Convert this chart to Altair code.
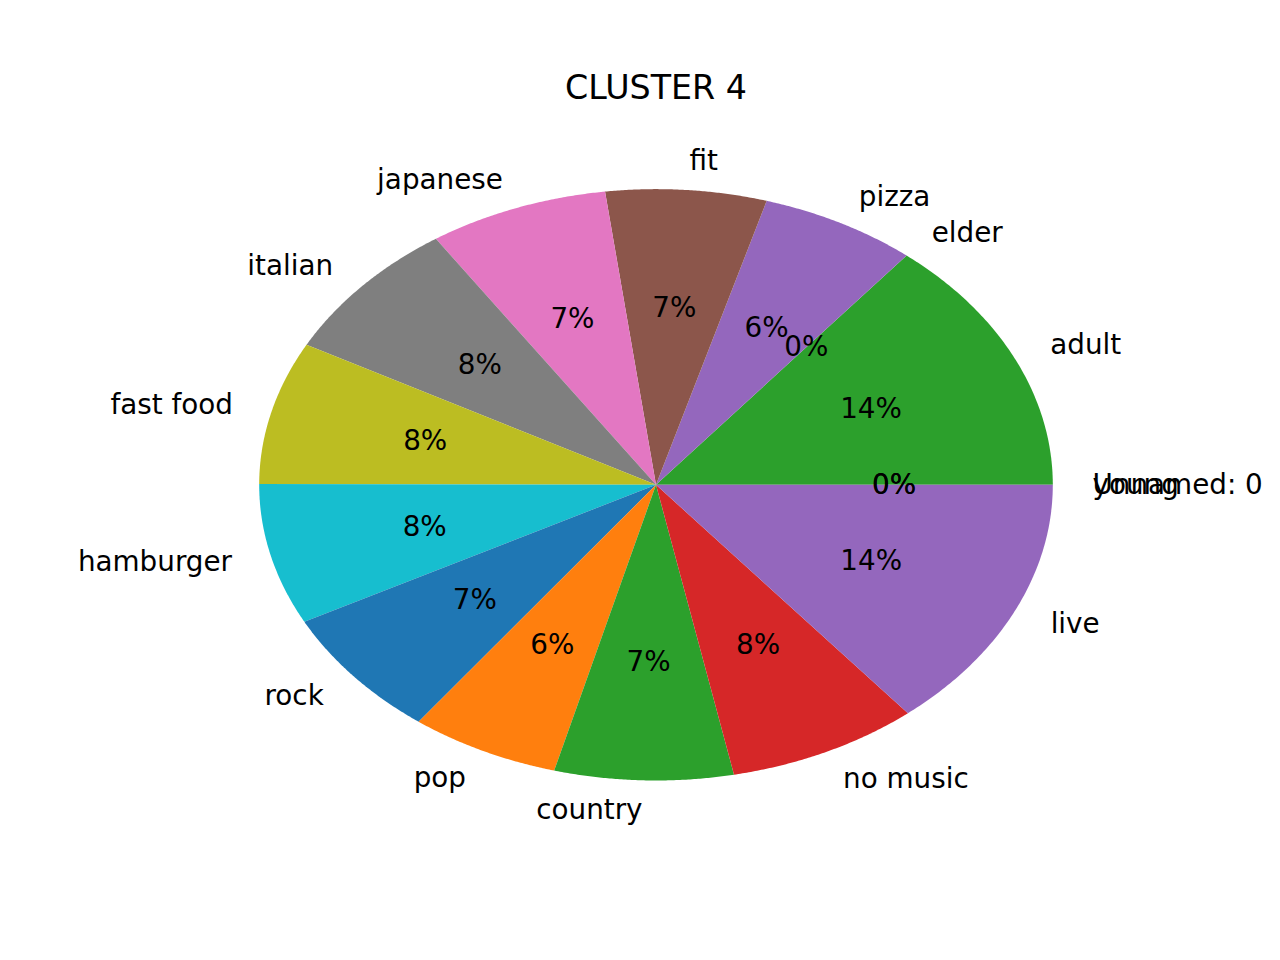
import altair as alt
import pandas as pd

labels = ["Unnamed: 0", "young", "adult", "elder", "pizza", "fit", "japanese",
          "italian", "fast food", "hamburger", "rock", "pop", "country",
          "no music", "live"]
values = [0.0, 0.0, 14.12, 0.0, 6.38, 6.55, 7.31, 7.79, 7.81, 7.71, 7.12,
          6.08, 7.28, 7.80, 14.05]
colors = ["#1f77b4", "#ff7f0e", "#2ca02c", "#d62728", "#9467bd", "#8c564b",
          "#e377c2", "#7f7f7f", "#bcbd22", "#17becf", "#1f77b4", "#ff7f0e",
          "#2ca02c", "#d62728", "#9467bd"]
title_text = ["CLUSTER 4"]

df = pd.DataFrame({"label": labels, "value": values, "idx": list(range(len(labels)))})

FONT = "DejaVu Sans"
N = 90

base = alt.Chart(df).transform_window(
    cum="sum(value)", sort=[alt.SortField("idx")], frame=[None, 0]
).transform_joinaggregate(
    total="sum(value)"
).transform_calculate(
    a0="(datum.cum - datum.value) / datum.total * 2 * PI",
    a1="datum.cum / datum.total * 2 * PI",
).transform_calculate(
    mid="(datum.a0 + datum.a1) / 2",
    pct="format(datum.value / datum.total * 100, '.0f') + '%'",
)

xs = alt.Scale(domain=[-1.25, 1.25], nice=False, zero=False)
ys = alt.Scale(domain=[-1.25, 1.25], nice=False, zero=False)

pie = base.transform_calculate(
    pts=f"sequence(0, {N + 2})"
).transform_flatten(["pts"]).transform_calculate(
    t=f"datum.a0 + (datum.a1 - datum.a0) * (datum.pts - 1) / {N}"
).transform_calculate(
    px="datum.pts == 0 ? 0 : cos(datum.t)",
    py="datum.pts == 0 ? 0 : sin(datum.t)",
).mark_line(strokeWidth=0, interpolate="linear").encode(
    x=alt.X("px:Q", scale=xs, axis=None),
    y=alt.Y("py:Q", scale=ys, axis=None),
    fill=alt.Fill("label:N", scale=alt.Scale(domain=labels, range=colors), legend=None),
    order=alt.Order("pts:Q"),
)

lab = base.transform_calculate(
    px="1.1 * cos(datum.mid)", py="1.1 * sin(datum.mid)"
)
lab_right = lab.transform_filter("cos(datum.mid) > 0").mark_text(
    align="left", baseline="middle", font=FONT, fontSize=27.8, color="black", dy=1
).encode(
    x=alt.X("px:Q", scale=xs, axis=None),
    y=alt.Y("py:Q", scale=ys, axis=None),
    text="label:N",
)
lab_left = lab.transform_filter("cos(datum.mid) <= 0").mark_text(
    align="right", baseline="middle", font=FONT, fontSize=27.8, color="black", dy=1
).encode(
    x=alt.X("px:Q", scale=xs, axis=None),
    y=alt.Y("py:Q", scale=ys, axis=None),
    text="label:N",
)

pct = base.transform_calculate(
    px="0.6 * cos(datum.mid)", py="0.6 * sin(datum.mid)"
).mark_text(
    align="center", baseline="middle", font=FONT, fontSize=27.8, color="black", dy=1
).encode(
    x=alt.X("px:Q", scale=xs, axis=None),
    y=alt.Y("py:Q", scale=ys, axis=None),
    text="pct:N",
)

title = alt.Chart(pd.DataFrame({"t": title_text})).mark_text(
    align="center", baseline="alphabetic", font=FONT, fontSize=33.3, color="black"
).encode(
    text="t:N",
    x=alt.value(496),
    y=alt.value(-16.7),
)

chart = alt.layer(pie, lab_right, lab_left, pct, title).properties(
    width=992,
    height=739.2,
    background="white",
    autosize=alt.AutoSizeParams(type="none"),
    padding={"left": 160, "top": 115.2, "right": 128, "bottom": 105.6},
).configure_view(strokeWidth=0)

chart.save("out.html", embed_options={"renderer": "svg", "actions": False})
